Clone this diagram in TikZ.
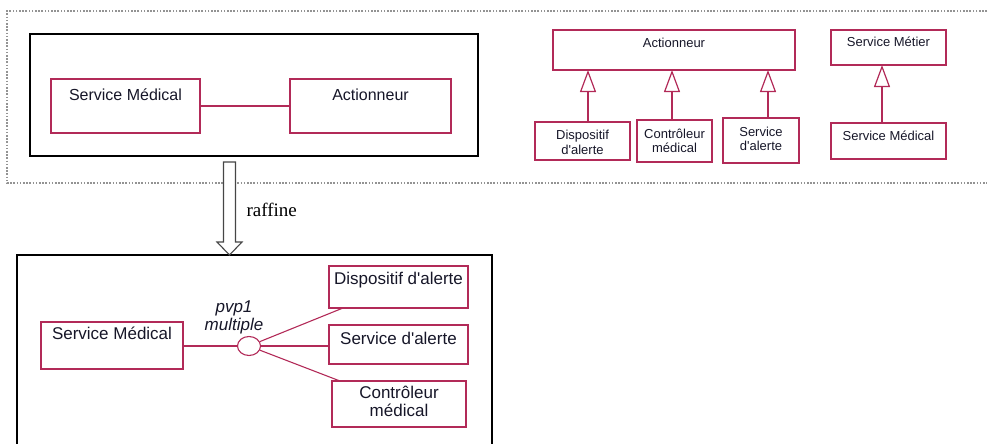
\documentclass[tikz,border=0pt]{standalone}
\usepackage{fontspec}
\usetikzlibrary{arrows.meta,shapes.geometric}

\newfontfamily\sansdiag{Liberation Sans}
\newfontfamily\romain{Liberation Serif}

\definecolor{cramoisi}{RGB}{178,42,88}
\definecolor{encre}{RGB}{22,22,40}

\begin{document}
\begin{tikzpicture}[
x=1pt, y=-1pt,
boite/.style={draw=cramoisi, line width=1.2pt, text=encre, inner xsep=2pt, inner ysep=0pt, outer sep=0pt, align=center, anchor=north west},
petit/.style={font=\sansdiag\fontsize{13}{14.5}\selectfont},
grand/.style={font=\sansdiag\fontsize{16}{18}\selectfont},
bas/.style={font=\sansdiag\fontsize{17}{18}\selectfont},
cadre/.style={line width=2.9pt},
pointille/.style={draw=gray!85, line width=1.6pt, dash pattern=on 1.6pt off 1.6pt},
herite/.style={draw=cramoisi, line width=1.2pt, -{Triangle[open, length=22pt, width=16pt, fill=white]}},
lien/.style={draw=cramoisi, line width=1.1pt},
fleche/.style={draw=gray!55!black, line width=1.1pt, fill=white} ]

\clip (0,0) rectangle (988,444);

\draw[pointille] (987,11) -| (7,183) -- (987,183);

\draw[cadre] (30,34) rectangle (478,156);

\draw[cadre] (17,460) |- (492,255) -- (492,460);

% modele abstrait
\node[boite, grand, minimum width=149pt, text height=21pt, text depth=33pt] (sm1) at (51,79) {Service Médical};

\node[boite, grand, minimum width=161pt, text height=21.5pt, text depth=32.5pt] (ac1) at (290,79) {Actionneur};

\draw[lien] (sm1) -- (ac1);

% hierarchies
\node[boite, petit, minimum width=242pt, text height=17.5pt, text depth=22.5pt] (ac2) at (553,30) {Actionneur};

\node[boite, petit, minimum width=115pt, text height=16.5pt, text depth=18.5pt] (smet) at (831,30) {Service Métier};

\node[boite, petit, minimum width=95pt, text height=32pt, text depth=6pt] (da2) at (535,122) {Dispositif\\d'alerte};

\node[boite, petit, minimum width=75pt, text height=32.5pt, text depth=9.5pt] (cm2) at (637,120) {Contrôleur\\médical};

\node[boite, petit, minimum width=76pt, text height=32.5pt, text depth=12.5pt] (sa2) at (723,118) {Service\\d'alerte};

\node[boite, petit, minimum width=115pt, text height=17.5pt, text depth=18.5pt] (sm2) at (831,123) {Service Médical};

\draw[herite] ([xshift=5.5pt]da2.north) -- ([xshift=5.5pt]da2.north |- ac2.south);

\draw[herite] ([xshift=-2.5pt]cm2.north) -- ([xshift=-2.5pt]cm2.north |- ac2.south);

\draw[herite] ([xshift=7pt]sa2.north) -- ([xshift=7pt]sa2.north |- ac2.south);

\draw[herite] ([xshift=-6.5pt]sm2.north) -- ([xshift=-6.5pt]sm2.north |- smet.south);

% raffinement
\coordinate (raf) at (229.5,162);

\draw[fleche] (raf) ++(-6,0) -- ++(0,80) -- ++(-6.5,0) -- ++(12.5,13) -- ++(12.5,-13) -- ++(-6.5,0) -- ++(0,-80) -- cycle;

\node[font=\romain\fontsize{19}{21}\selectfont, anchor=west] (raffine) at (243,210) {raffine};

% modele raffine
\node[boite, bas, minimum width=142pt, text height=17.5pt, text depth=29.5pt] (sm3) at (41,322) {Service Médical};

\node[boite, bas, minimum width=139pt, text height=18.5pt, text depth=23.5pt] (da3) at (329,266) {Dispositif d'alerte};

\node[boite, bas, minimum width=139pt, text height=19.5pt, text depth=19.5pt] (sa3) at (329,325) {Service d'alerte};

\node[boite, bas, minimum width=134pt, text height=35pt, text depth=11pt] (cm3) at (332,381) {Contrôleur\\médical};

\node[draw=cramoisi, line width=1.1pt, ellipse, minimum width=23pt, minimum height=19pt, inner sep=0pt, fill=white] (pvp) at (249,346) {};

\node[font=\sansdiag\itshape\fontsize{17}{18}\selectfont, text=encre, align=center] (pvpnom) at (234,317) {pvp1\\multiple};

\draw[lien] (sm3.east |- pvp) -- (pvp);

\draw[lien] (pvp) -- ([xshift=14pt]da3.south west);

\draw[lien] (pvp) -- (pvp -| sa3.west);

\draw[lien] (pvp) -- ([xshift=8pt]cm3.north west);

\end{tikzpicture}
\end{document}
